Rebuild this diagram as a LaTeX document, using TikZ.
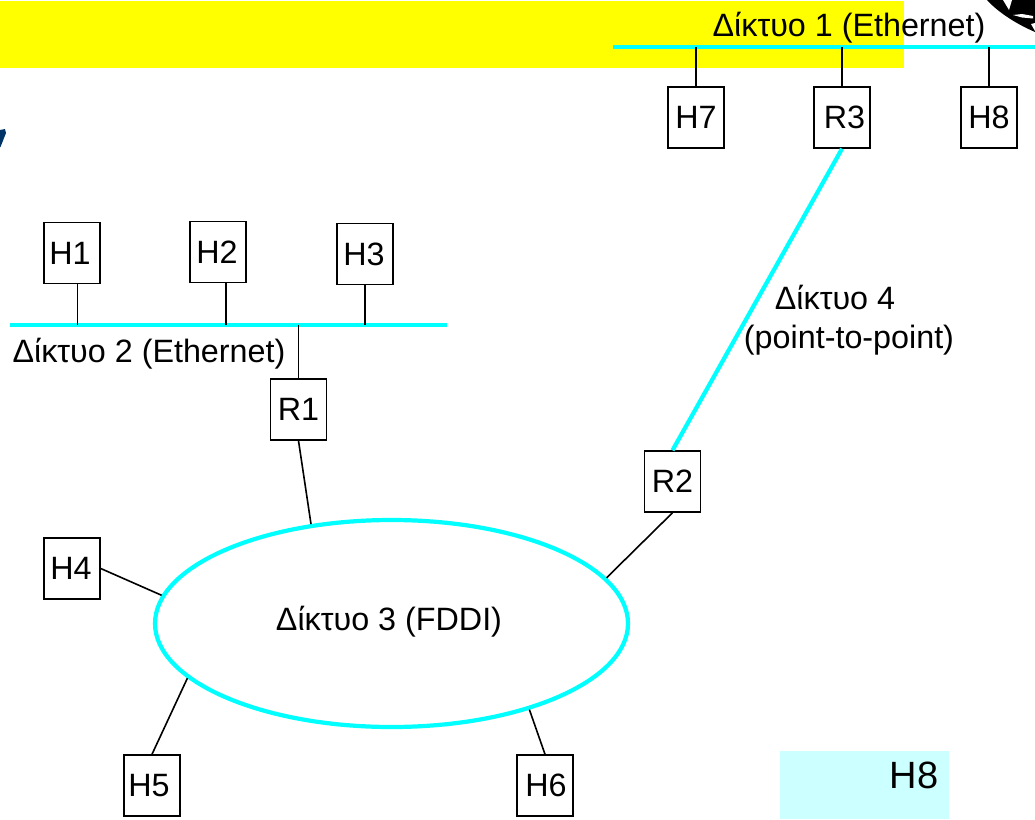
\documentclass[tikz,border=0pt]{standalone}
\usepackage{fontspec}
\setmainfont{Liberation Sans}
\usetikzlibrary{shapes.geometric}
\definecolor{busc}{RGB}{0,255,255}
\definecolor{yel}{RGB}{255,255,0}
\definecolor{pale}{RGB}{204,255,255}
\definecolor{navy}{RGB}{0,51,102}
\tikzset{
  x=1pt,y=-1pt,
  every node/.style={font=\fontsize{32.3}{38}\selectfont,text=black,inner sep=0pt},
  hostbox/.style={draw=black,line width=1.5pt,fill=white,minimum width=56pt,minimum height=61pt,anchor=center},
  bus/.style={draw=busc,line width=4.2pt},
  link/.style={draw=black,line width=1.6pt},
  lab/.style={anchor=center}
}
\begin{document}
\begin{tikzpicture}
\useasboundingbox (0,0) rectangle (1035,819);
% background fragments
\fill[yel] (0,1) rectangle (904,68);
\fill[pale] (780,751) rectangle (949,819);
\fill[navy] (0,130) -- (5,129) -- (6,133) -- (0.5,147) -- (0,147) -- cycle;
\fill[black] (987,0) .. controls (996,10) and (1012,22) .. (1035,32) -- (1035,0) -- cycle;
\fill[white] (1013,15) -- (1022,14) -- (1033,16) -- (1033,18.5) -- (1022,17.5) -- cycle;
\fill[white] (1003,0) -- (1012,0) -- (1009,10) -- cycle;
\fill[white] (1031,24) -- (1035,23) -- (1035,31) -- cycle;
% coordinates for the bus ends
\coordinate (b1l) at (613,47);
\coordinate (b1r) at (1035,47);
\coordinate (b2l) at (10,325);
\coordinate (b2r) at (447,325);
% hosts and routers
\node[hostbox] (H7) at (696,117.5) {H7};
\node[hostbox] (R3) at (842,117.5) {\kern5pt R3};
\node[hostbox] (H8) at (989,117.5) {H8};
\node[hostbox] (H1) at (72,253) {\kern-4pt H1};
\node[hostbox] (H2) at (218,252) {\kern-2pt H2};
\node[hostbox] (H3) at (365,254) {\kern-2pt H3};
\node[hostbox] (R1) at (298.5,409.5) {R1};
\node[hostbox] (R2) at (672.5,481.5) {R2};
\node[hostbox] (H4) at (72,568.5) {\kern-2pt H4};
\node[hostbox] (H5) at (152,785.5) {\kern-6pt H5};
\node[hostbox] (H6) at (545,785.5) {\kern2pt H6};
% network 3
\node[ellipse,draw=busc,line width=4.2pt,minimum width=473pt,minimum height=207pt] (net3) at (391.5,623.5) {};
% labels
\node[lab] (lab3) at (389,622) {Δίκτυο 3 (FDDI)};
\node[lab] (lab1) at (849,27.5) {Δίκτυο 1 (Ethernet)};
\node[lab] (lab2) at (149,354) {Δίκτυο 2 (Ethernet)};
\node[lab] (lab4a) at (835,297) {Δίκτυο 4};
\node[lab] (lab4b) at (849,340) {(point-to-point)};
\node[lab,font=\fontsize{38}{44}\selectfont] (lab8) at (914,775) {H8};
% buses
\draw[bus] (b1l) -- (b1r);
\draw[bus] (b2l) -- (b2r);
\draw[bus] (R3.south) -- (R2.north);
% connectors
\draw[link] (H7.north) -- (H7.north |- b1l);
\draw[link] (R3.north) -- (R3.north |- b1l);
\draw[link] (H8.north) -- (H8.north |- b1l);
\draw[link] ([xshift=5.5pt]H1.south) -- ([xshift=5.5pt]H1.south |- b2l);
\draw[link] ([xshift=8pt]H2.south) -- ([xshift=8pt]H2.south |- b2l);
\draw[link] (H3.south) -- (H3.south |- b2l);
\draw[link] (R1.north) -- (R1.north |- b2l);
\draw[link] (R1.south) -- (net3.129);
\draw[link] (R2.south) -- (net3.12);
\draw[link] (H4.east) -- (net3.173);
\draw[link] (H5.north) -- (net3.195);
\draw[link] (H6.north) -- (net3.328);
\end{tikzpicture}
\end{document}
